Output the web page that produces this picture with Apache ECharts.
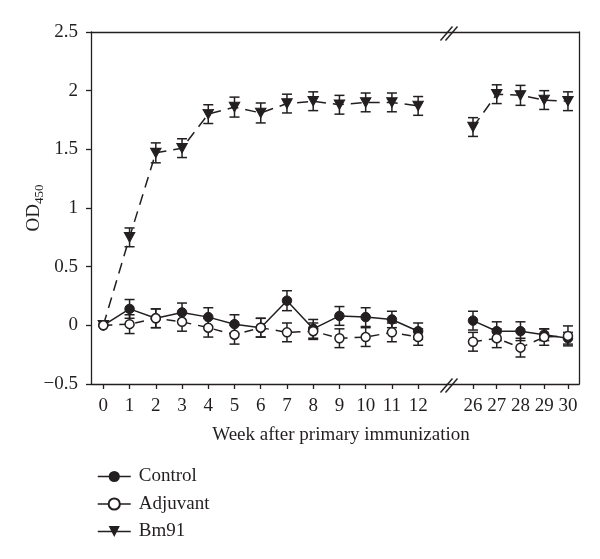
<!DOCTYPE html>
<html><head><meta charset="utf-8">
<script src="https://cdn.jsdelivr.net/npm/echarts@6/dist/echarts.min.js"></script>
<style>html,body{margin:0;padding:0;background:#fff}#c{width:600px;height:559px}</style>
</head><body><div id="c"></div>
<script>
// ---- data ----
const weeksA = [0,1,2,3,4,5,6,7,8,9,10,11,12];
const weeksB = [26,27,28,29,30];
const yTicks = [-0.5,0,0.5,1,1.5,2,2.5];
const seriesNames = ['Control','Adjuvant','Bm91'];

const controlA    = [0, 0.14, 0.06, 0.11, 0.07, 0.01, -0.02, 0.21, -0.03, 0.08, 0.07, 0.05, -0.05];
const controlErrA = [0, 0.08, 0.08, 0.08, 0.08, 0.08, 0.08, 0.085, 0.08, 0.08, 0.08, 0.07, 0.07];
const controlB    = [0.04, -0.05, -0.05, -0.08, -0.11];
const controlErrB = [0.08, 0.08, 0.08, 0.05, 0.05];

const adjuvantA    = [0, 0.01, 0.06, 0.03, -0.02, -0.08, -0.02, -0.06, -0.05, -0.11, -0.10, -0.06, -0.10];
const adjuvantErrA = [0, 0.08, 0.08, 0.08, 0.08, 0.08, 0.08, 0.08, 0.07, 0.08, 0.08, 0.08, 0.07];
const adjuvantB    = [-0.14, -0.11, -0.19, -0.10, -0.09];
const adjuvantErrB = [0.08, 0.08, 0.08, 0.07, 0.085];

const bm91A    = [0, 0.75, 1.47, 1.51, 1.80, 1.86, 1.81, 1.89, 1.91, 1.88, 1.90, 1.90, 1.87];
const bm91ErrA = [0, 0.08, 0.085, 0.08, 0.08, 0.085, 0.085, 0.08, 0.08, 0.08, 0.08, 0.08, 0.08];
const bm91B    = [1.69, 1.97, 1.96, 1.92, 1.91];
const bm91ErrB = [0.08, 0.08, 0.085, 0.08, 0.08];

// ---- layout ----
const FONT = '"Liberation Serif", "DejaVu Serif", serif';
const FS = 19;
const INK = '#231f20';
const L = 91, BRK = 447, R = 579, T = 32, H = 352;

const chart = echarts.init(document.getElementById('c'), null, {renderer:'canvas'});

const pairs = (xs, ys) => xs.map((x,i) => [x, ys[i]]);
const triples = (xs, ys, es) => xs.map((x,i) => [x, ys[i], es[i]]);

const fmtY = v => (v < 0 ? '\u2212' + Math.abs(v) : String(v));

function xAxisBottom(grid, min, max, ticks) {
  return {
    type:'value', gridIndex:grid, position:'bottom', min:min, max:max,
    axisLine:{show:true, onZero:false, lineStyle:{color:INK, width:1.3}},
    axisTick:{show:true, length:5, customValues:ticks, lineStyle:{color:INK, width:1.3}},
    axisLabel:{customValues:ticks, color:INK, fontFamily:FONT, fontSize:FS, margin:13},
    splitLine:{show:false}
  };
}
function xAxisTop(grid, min, max) {
  return {
    type:'value', gridIndex:grid, position:'top', min:min, max:max,
    axisLine:{show:true, onZero:false, lineStyle:{color:INK, width:1.3}},
    axisTick:{show:false}, axisLabel:{show:false}, splitLine:{show:false}
  };
}

const errRender = (params, api) => {
  const x = api.value(0), y = api.value(1), e = api.value(2);
  if (!e) return null;
  const p1 = api.coord([x, y + e]);
  const p2 = api.coord([x, y - e]);
  const w = 5;
  const st = {stroke:INK, lineWidth:1.5};
  return {type:'group', children:[
    {type:'line', shape:{x1:p1[0], y1:p1[1], x2:p2[0], y2:p2[1]}, style:st},
    {type:'line', shape:{x1:p1[0]-w, y1:p1[1], x2:p1[0]+w, y2:p1[1]}, style:st},
    {type:'line', shape:{x1:p2[0]-w, y1:p2[1], x2:p2[0]+w, y2:p2[1]}, style:st}
  ]};
};

const triDown = 'path://M0,0 L10,0 L5,9 Z';
const styles = {
  Control:  {symbol:'circle', symbolSize:9.5, itemStyle:{color:INK, borderColor:INK}, lineStyle:{color:INK, width:1.5, type:'solid'}},
  Adjuvant: {symbol:'circle', symbolSize:9, itemStyle:{color:'#fff', borderColor:INK, borderWidth:1.5}, lineStyle:{color:INK, width:1.5, type:[9,7]}},
  Bm91:     {symbol:triDown, symbolSize:[10.5,9.5], itemStyle:{color:INK, borderColor:INK}, lineStyle:{color:INK, width:1.5, type:[11,7]}}
};

const dataSets = {
  Control:  [[controlA, controlErrA],[controlB, controlErrB]],
  Adjuvant: [[adjuvantA, adjuvantErrA],[adjuvantB, adjuvantErrB]],
  Bm91:     [[bm91A, bm91ErrA],[bm91B, bm91ErrB]]
};

const series = [];
[[weeksA,0],[weeksB,1]].forEach(([wk, g]) => {
  seriesNames.forEach(name => {
    const [vals] = dataSets[name][g];
    const s = styles[name];
    series.push({
      type:'line', name:name, xAxisIndex:g*2, yAxisIndex:g,
      data:pairs(wk, vals), symbol:s.symbol, symbolSize:s.symbolSize,
      showAllSymbol:true, itemStyle:s.itemStyle, lineStyle:s.lineStyle, color:INK,
      z: name === 'Adjuvant' ? 4 : 3, animation:false
    });
  });
});
[[weeksA,0],[weeksB,1]].forEach(([wk, g]) => {
  seriesNames.forEach(name => {
    const [vals, errs] = dataSets[name][g];
    series.push({
      type:'custom', name:name, xAxisIndex:g*2, yAxisIndex:g, color:INK,
      renderItem:errRender, encode:{x:0, y:1}, data:triples(wk, vals, errs),
      z:2, silent:true
    });
  });
});

const option = {
  animation:false,
  backgroundColor:'#fff',
  grid:[
    {left:L, top:T, width:BRK-L, height:H, containLabel:false},
    {left:BRK, top:T, width:R-BRK, height:H, containLabel:false}
  ],
  xAxis:[
    xAxisBottom(0, -0.47, 13.1, weeksA),
    xAxisTop(0, -0.47, 13.1),
    xAxisBottom(1, 24.905, 30.465, weeksB),
    xAxisTop(1, 24.905, 30.465)
  ],
  yAxis:[
    {type:'value', gridIndex:0, position:'left', min:-0.5, max:2.5, interval:0.5,
     axisLine:{show:true, onZero:false, lineStyle:{color:INK, width:1.3}},
     axisTick:{show:true, length:5, lineStyle:{color:INK, width:1.3}},
     axisLabel:{color:INK, fontFamily:FONT, fontSize:FS, margin:13, formatter:fmtY},
     splitLine:{show:false},
     name:'{a|OD}{b|450}', nameLocation:'middle', nameGap:45, nameRotate:90, nameMoveOverlap:false,
     nameTextStyle:{color:INK, fontFamily:FONT,
       rich:{a:{fontSize:FS, fontFamily:FONT, color:INK, lineHeight:24, verticalAlign:'middle'},
             b:{fontSize:13, fontFamily:FONT, color:INK, lineHeight:24, verticalAlign:'bottom', padding:[0,0,0,0]}}}
    },
    {type:'value', gridIndex:1, position:'right', min:-0.5, max:2.5, interval:0.5,
     axisLine:{show:true, onZero:false, lineStyle:{color:INK, width:1.3}},
     axisTick:{show:false}, axisLabel:{show:false}, splitLine:{show:false}}
  ],
  title:{text:'Week after primary immunization', left:336, top:421, textAlign:'center',
    textStyle:{color:INK, fontFamily:FONT, fontSize:FS, fontWeight:'normal'}},
  legend:{
    data:seriesNames, orient:'vertical', left:92, top:462, itemWidth:33, itemHeight:14, itemGap:8.5,
    textStyle:{color:INK, fontFamily:FONT, fontSize:FS, lineHeight:19, padding:[0,0,0,3]},
    lineStyle:{type:'solid', width:1.5},
    selectedMode:false
  },
  graphic:[
    {type:'group', left:BRK-9, top:T-8, children:[
      {type:'line', shape:{x1:0, y1:15, x2:12, y2:1}, style:{stroke:INK, lineWidth:1.4}},
      {type:'line', shape:{x1:5, y1:15, x2:17, y2:1}, style:{stroke:INK, lineWidth:1.4}}
    ]},
    {type:'group', left:BRK-9, top:T+H-8, children:[
      {type:'line', shape:{x1:0, y1:15, x2:12, y2:1}, style:{stroke:INK, lineWidth:1.4}},
      {type:'line', shape:{x1:5, y1:15, x2:17, y2:1}, style:{stroke:INK, lineWidth:1.4}}
    ]}
  ],
  series:series
};
chart.setOption(option);
</script></body></html>
